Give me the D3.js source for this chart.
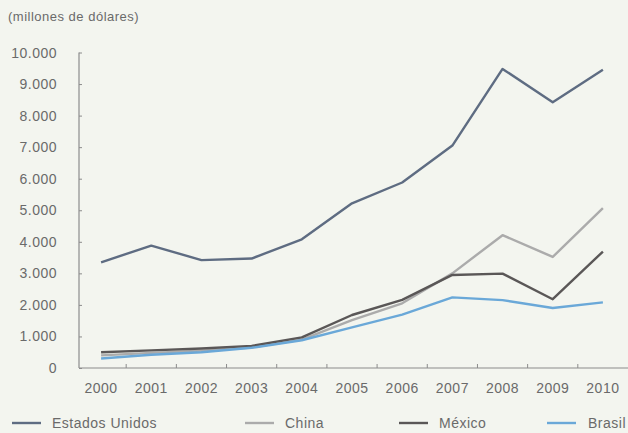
<!DOCTYPE html>
<html>
<head>
<meta charset="utf-8">
<script src="https://cdn.jsdelivr.net/npm/d3@7"></script>
<style>
  html, body { margin: 0; padding: 0; background: #f3f5ef; }
  svg { display: block; font-family: "Liberation Sans", Arial, sans-serif; }
</style>
</head>
<body>
<svg id="chart" width="628" height="433"></svg>
<script>
// Inversión (millones de dólares), 2000–2010
const years = ["2000","2001","2002","2003","2004","2005","2006","2007","2008","2009","2010"];
const estadosUnidos = [3350, 3880, 3420, 3470, 4080, 5220, 5880, 7050, 9480, 8420, 9450];
const china         = [400, 480, 550, 650, 900, 1520, 2050, 3000, 4210, 3520, 5070];
const mexico        = [500, 560, 620, 700, 970, 1680, 2160, 2950, 2990, 2180, 3690];
const brasil        = [300, 420, 500, 640, 880, 1290, 1690, 2240, 2150, 1900, 2080];
const yTicks = [0, 1000, 2000, 3000, 4000, 5000, 6000, 7000, 8000, 9000, 10000];
const seriesNames = ["Estados Unidos", "China", "México", "Brasil"];

const svg = d3.select("#chart");
const textColor = "#6a6a6a";
const axisColor = "#8c8c8c";

const x = d3.scaleBand().domain(years).range([76, 628]).padding(0);
const y = d3.scaleLinear().domain([0, 10000]).range([368, 52.5]);
const fmt = v => d3.format(",")(v).replace(/,/g, ".");

// title
svg.append("text")
  .attr("x", 8).attr("y", 21)
  .attr("font-size", 13).attr("letter-spacing", 0.5)
  .attr("fill", textColor)
  .text("(millones de dólares)");

// y axis
const yAxis = svg.append("g").attr("transform", "translate(79,0)")
  .call(d3.axisRight(y).tickValues(yTicks).tickSize(3).tickFormat(""));
yAxis.select(".domain").attr("stroke", axisColor).attr("stroke-width", 1.2).attr("d", `M0,${y(10000)}V${y(0)}`);
yAxis.selectAll(".tick line").attr("stroke", axisColor);
svg.append("g").selectAll("text").data(yTicks).join("text")
  .attr("x", 57).attr("y", d => y(d) + 5)
  .attr("text-anchor", "end")
  .attr("font-size", 14).attr("letter-spacing", 0.5)
  .attr("fill", textColor)
  .text(fmt);

// x axis: baseline with ticks at band boundaries
const xg = svg.append("g");
xg.append("line")
  .attr("x1", 79).attr("x2", 628)
  .attr("y1", y(0)).attr("y2", y(0))
  .attr("stroke", axisColor).attr("stroke-width", 1.2);
xg.selectAll("line.tick").data(years.slice(1)).join("line")
  .attr("class", "tick")
  .attr("x1", d => x(d)).attr("x2", d => x(d))
  .attr("y1", y(0)).attr("y2", y(0) - 4)
  .attr("stroke", axisColor);
xg.selectAll("text").data(years).join("text")
  .attr("x", d => x(d) + x.bandwidth() / 2)
  .attr("y", 393)
  .attr("text-anchor", "middle")
  .attr("font-size", 14).attr("letter-spacing", 0.5)
  .attr("fill", textColor)
  .text(d => d);

// lines
const series = [
  { name: "China", values: china, color: "#ababab" },
  { name: "México", values: mexico, color: "#5a5757" },
  { name: "Brasil", values: brasil, color: "#6aa8d8" },
  { name: "Estados Unidos", values: estadosUnidos, color: "#5e6c82" }
];
const line = d3.line()
  .x((d, i) => x(years[i]) + x.bandwidth() / 2)
  .y(d => y(d));
svg.append("g").selectAll("path").data(series).join("path")
  .attr("d", d => line(d.values))
  .attr("fill", "none")
  .attr("stroke", d => d.color)
  .attr("stroke-width", 2.4)
  .attr("stroke-linejoin", "round");

// legend
const colorOf = Object.fromEntries(series.map(s => [s.name, s.color]));
const legendPos = [
  { name: seriesNames[0], x: 12 },
  { name: seriesNames[1], x: 245 },
  { name: seriesNames[2], x: 399 },
  { name: seriesNames[3], x: 547 }
];
const lg = svg.append("g").selectAll("g").data(legendPos).join("g")
  .attr("transform", d => `translate(${d.x},423)`);
lg.append("line")
  .attr("x1", 0).attr("x2", 29).attr("y1", 0).attr("y2", 0)
  .attr("stroke", d => colorOf[d.name]).attr("stroke-width", 2.4);
lg.append("text")
  .attr("x", d => d.name === "Brasil" ? 41 : 40).attr("y", 5)
  .attr("font-size", 14).attr("letter-spacing", 0.5)
  .attr("fill", textColor)
  .text(d => d.name);
</script>
</body>
</html>
